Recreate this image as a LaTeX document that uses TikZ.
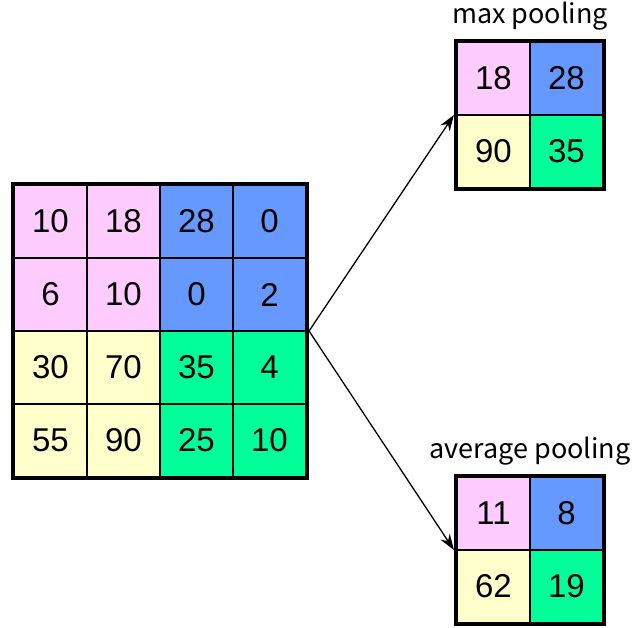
\documentclass[tikz,border=0pt]{standalone}
\usepackage{fontspec}
\setmainfont{Liberation Sans}
\newfontfamily\lblfont{Noto Sans CJK KR}
\usetikzlibrary{fit,arrows.meta}
\definecolor{cpink}{HTML}{FFCCFF}
\definecolor{cblue}{HTML}{6699FF}
\definecolor{cyell}{HTML}{FFFFCC}
\definecolor{cgreen}{HTML}{00FF99}
\begin{document}
\begin{tikzpicture}[x=1pt,y=-1pt,
  cell/.style={draw=black, line width=1.6pt, minimum size=73pt, inner sep=0pt, anchor=center, font=\fontsize{33}{33}\selectfont},
  frame/.style={draw=black, line width=4.5pt, inner sep=0pt},
  conn/.style={-{Stealth[length=16pt,width=11pt]}, line width=1.3pt},
  lbl/.style={font=\lblfont\fontsize{27}{27}\selectfont}]
\useasboundingbox (0,0) rectangle (635,628);
% left 4x4 grid
\foreach \r/\c/\v/\col in {
  1/1/10/cpink, 1/2/18/cpink, 1/3/28/cblue, 1/4/0/cblue,
  2/1/6/cpink, 2/2/10/cpink, 2/3/0/cblue, 2/4/2/cblue,
  3/1/30/cyell, 3/2/70/cyell, 3/3/35/cgreen, 3/4/4/cgreen,
  4/1/55/cyell, 4/2/90/cyell, 4/3/25/cgreen, 4/4/10/cgreen}
  \node[cell, fill=\col] (a\r\c) at ({50.5+73*(\c-1)},{221.5+73*(\r-1)}) {\v};
\node[frame, fit=(a11)(a44)] (big) {};
% max pooling grid
\foreach \r/\c/\v/\col in {1/1/18/cpink, 1/2/28/cblue, 2/1/90/cyell, 2/2/35/cgreen}
  \node[cell, fill=\col] (m\r\c) at ({493.5+73*(\c-1)},{78.5+73*(\r-1)}) {\v};
\node[frame, fit=(m11)(m22)] (maxg) {};
% average pooling grid
\foreach \r/\c/\v/\col in {1/1/11/cpink, 1/2/8/cblue, 2/1/62/cyell, 2/2/19/cgreen}
  \node[cell, fill=\col] (v\r\c) at ({493.5+73*(\c-1)},{513.5+73*(\r-1)}) {\v};
\node[frame, fit=(v11)(v22)] (avgg) {};
% labels
\node[lbl] (maxl) at (530,16) {max pooling};
\node[lbl] (avgl) at (530,451) {average pooling};
% connectors
\draw[conn] (big.east) -- (maxg.west);
\draw[conn] (big.east) -- (avgg.west);
\end{tikzpicture}
\end{document}
